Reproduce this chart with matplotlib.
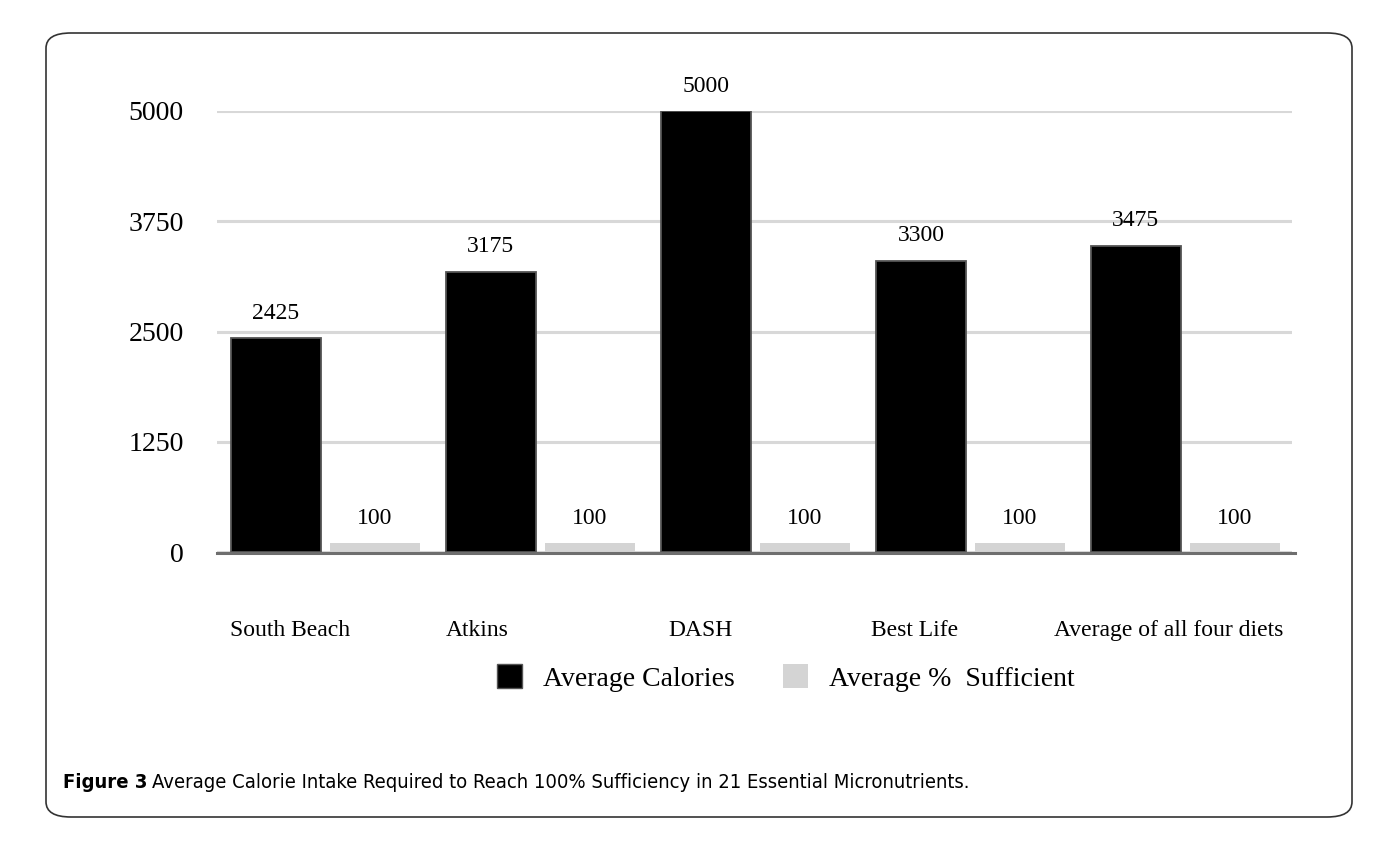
import numpy as np
import matplotlib.pyplot as plt
from matplotlib.patches import Patch, FancyBboxPatch
from matplotlib.lines import Line2D
from matplotlib.transforms import ScaledTranslation
from matplotlib import font_manager

# data
diets = ["South Beach", "Atkins", "DASH", "Best Life", "Average of all four diets"]
avg_calories = [2425, 3175, 5000, 3300, 3475]
avg_pct_sufficient = [100, 100, 100, 100, 100]
yticks = [0, 1250, 2500, 3750, 5000]

W, H = 1385, 842
SERIF = ["Liberation Serif", "DejaVu Serif"]
BLACK = "#000000"
GREY = "#d4d4d4"

fig = plt.figure(figsize=(W / 100, H / 100), dpi=100)

# rounded frame around the whole figure
frame = FancyBboxPatch((46 / W, 1 - 817 / H), (1352 - 46) / W, (817 - 33) / H,
                       boxstyle="round,pad=0,rounding_size=0.018",
                       transform=fig.transFigure, facecolor="white",
                       edgecolor="#333333", linewidth=1.2, zorder=0)
fig.add_artist(frame)

ax = fig.add_axes([217 / W, 1 - 552 / H, (1292 - 217) / W, (552 - 111) / H])
ax.patch.set_alpha(0)

x = np.arange(len(diets))
bw = 0.42
off = 0.46

b1 = ax.bar(x, avg_calories, bw, color=BLACK, edgecolor="#555555", linewidth=1.3, zorder=3)
b2 = ax.bar(x + off, avg_pct_sufficient, bw, color=GREY, edgecolor="none", zorder=3)

for bars, vals in ((b1, avg_calories), (b2, avg_pct_sufficient)):
    for r, v in zip(bars, vals):
        ax.annotate(str(v), (r.get_x() + r.get_width() / 2, r.get_height()),
                    xytext=(0, 18), textcoords="offset points", ha="center", va="center",
                    fontsize=17, family=SERIF, color="black", annotation_clip=False)

ax.set_xlim(-0.274, -0.274 + 1075 / 215)
ax.set_ylim(0, 5000)
ax.set_yticks(yticks)
ax.set_yticklabels([str(t) for t in yticks], fontsize=20, family=SERIF)
ax.set_xticks(x)
ax.set_xticklabels(diets, fontsize=17, family=SERIF)
ax.tick_params(axis="y", length=0, pad=24)
ax.tick_params(axis="x", length=0, pad=49)
ax.yaxis.grid(True, color="#d8d8d8", linewidth=2.2, zorder=0)
ax.set_axisbelow(True)
for s in ax.spines.values():
    s.set_visible(False)

# category labels in the original sit a little off the bar centres
nudge_px = [14, -14, -5, -6, 33]
for lab, dx in zip(ax.get_xticklabels(), nudge_px):
    lab.set_transform(lab.get_transform() + ScaledTranslation(dx / 100, 0, fig.dpi_scale_trans))

# baseline
fig.add_artist(Line2D([217 / W, 1295 / W], [1 - 553 / H, 1 - 553 / H],
                      color="#6e6e6e", linewidth=2.2, zorder=4))

handles = [Patch(facecolor=BLACK, edgecolor="#555555", label="Average Calories"),
           Patch(facecolor=GREY, edgecolor="none", label="Average %  Sufficient")]
fig.legend(handles=handles, loc="center", bbox_to_anchor=(786 / W, 1 - 678 / H),
           ncol=2, frameon=False, prop={"family": SERIF, "size": 20},
           handlelength=0.9, handleheight=0.9, handletextpad=0.75, columnspacing=1.75)

# caption
names = {f.name for f in font_manager.fontManager.ttflist}
if "Liberation Sans Narrow" in names:
    CAP = dict(family="Liberation Sans Narrow", fontsize=15.5)
else:
    CAP = dict(family="DejaVu Sans", fontstretch="condensed", fontsize=14.5)
t1 = fig.text(63 / W, 1 - 783 / H, "Figure 3", fontweight="bold",
              va="center", ha="left", **CAP)
fig.canvas.draw()
bb = t1.get_window_extent()
fig.text(bb.x1 / W + 5 / W, 1 - 783 / H,
         "Average Calorie Intake Required to Reach 100% Sufficiency in 21 Essential Micronutrients.",
         va="center", ha="left", **CAP)

fig.savefig("out.png", dpi=100)
